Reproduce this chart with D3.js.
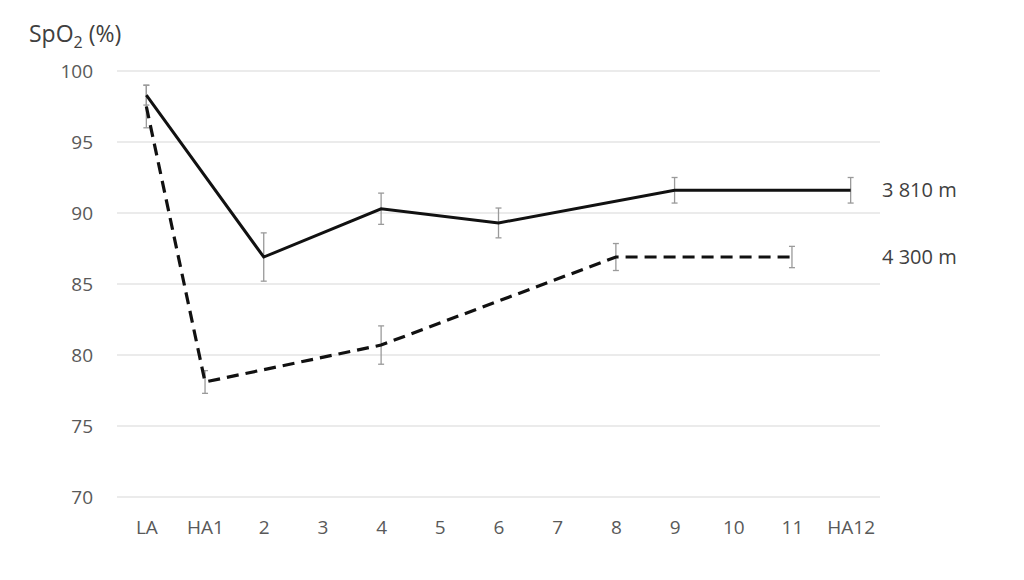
<!DOCTYPE html>
<html lang="en">
<head>
<meta charset="UTF-8">
<title>SpO2 by day</title>
<style>
  body { margin: 0; background: #fff; }
  svg text { font-family: "Open Sans", "Noto Sans", sans-serif; }
</style>
</head>
<body>
<div id="chart"></div>
<script src="https://d3js.org/d3.v7.min.js"></script>
<script>
// Categories along the x axis
var days = ["LA", "HA1", "2", "3", "4", "5", "6", "7", "8", "9", "10", "11", "HA12"];
var yTicks = [70, 75, 80, 85, 90, 95, 100];

// 3 810 m group (solid line); null = no measurement
var spo2Low = [98.3, null, 86.9, null, 90.3, null, 89.3, null, null, 91.6, null, null, 91.6];
var errLow  = [0.7, null, 1.7, null, 1.1, null, 1.05, null, null, 0.9, null, null, 0.9];

// 4 300 m group (dashed line)
var spo2High = [97.5, 78.1, null, null, 80.7, null, null, null, 86.9, null, null, 86.9, null];
var errHigh  = [1.5, 0.8, null, null, 1.35, null, null, null, 0.95, null, null, 0.75, null];

var seriesNames = ["3 810 m", "4 300 m"];

var width = 1024, height = 580;
var margin = {top: 71, right: 144, bottom: 83, left: 117};

var svg = d3.select("#chart").append("svg")
    .attr("width", width)
    .attr("height", height);

var x = d3.scalePoint().domain(days)
    .range([margin.left, width - margin.right])
    .padding(0.5);
var y = d3.scaleLinear().domain([70, 100])
    .range([height - margin.bottom, margin.top]);

// gridlines
svg.append("g")
    .selectAll("line")
    .data(yTicks)
    .join("line")
    .attr("x1", margin.left)
    .attr("x2", width - margin.right)
    .attr("y1", d => y(d))
    .attr("y2", d => y(d))
    .attr("stroke", "#e4e4e4")
    .attr("stroke-width", 1.5);

// y axis labels
var yAxis = svg.append("g")
    .attr("transform", "translate(" + (margin.left - 24) + ",0)")
    .call(d3.axisLeft(y).tickValues(yTicks).tickSize(0).tickPadding(0));
yAxis.select(".domain").remove();
yAxis.selectAll("text")
    .attr("fill", "#595959")
    .style("font-size", "19px");

// x axis labels
var xAxis = svg.append("g")
    .attr("transform", "translate(0," + (height - margin.bottom + 23) + ")")
    .call(d3.axisBottom(x).tickSize(0).tickPadding(0));
xAxis.select(".domain").remove();
xAxis.selectAll("text")
    .attr("fill", "#595959")
    .style("font-size", "19px");

// y axis title
var title = svg.append("text")
    .attr("x", 29)
    .attr("y", 42)
    .attr("fill", "#404040")
    .style("font-size", "23px");
title.append("tspan").text("SpO");
title.append("tspan").text("2").attr("dy", 6).style("font-size", "16px");
title.append("tspan").text(" (%)").attr("dy", -6);

function toPoints(vals, errs) {
    return days.map((d, i) => ({day: d, v: vals[i], e: errs[i]}))
        .filter(p => p.v !== null);
}

function drawErrors(pts) {
    var g = svg.append("g").attr("stroke", "#9a9a9a").attr("stroke-width", 1.3);
    pts.forEach(p => {
        var cx = x(p.day);
        g.append("line").attr("x1", cx).attr("x2", cx)
            .attr("y1", y(p.v - p.e)).attr("y2", y(p.v + p.e));
        g.append("line").attr("x1", cx - 3).attr("x2", cx + 3)
            .attr("y1", y(p.v - p.e)).attr("y2", y(p.v - p.e));
        g.append("line").attr("x1", cx - 3).attr("x2", cx + 3)
            .attr("y1", y(p.v + p.e)).attr("y2", y(p.v + p.e));
    });
}

var line = d3.line().x(p => x(p.day)).y(p => y(p.v));

var lowPts = toPoints(spo2Low, errLow);
var highPts = toPoints(spo2High, errHigh);

drawErrors(highPts);
drawErrors(lowPts);

svg.append("path")
    .datum(highPts)
    .attr("d", line)
    .attr("fill", "none")
    .attr("stroke", "#111")
    .attr("stroke-width", 3.2)
    .attr("stroke-dasharray", "12,7");

svg.append("path")
    .datum(lowPts)
    .attr("d", line)
    .attr("fill", "none")
    .attr("stroke", "#111")
    .attr("stroke-width", 3);

// series labels at the right
var lastLow = lowPts[lowPts.length - 1];
var lastHigh = highPts[highPts.length - 1];
svg.append("text")
    .attr("x", width - margin.right + 2)
    .attr("y", y(lastLow.v))
    .attr("dy", "0.35em")
    .attr("fill", "#404040")
    .style("font-size", "20px")
    .text(seriesNames[0]);
svg.append("text")
    .attr("x", width - margin.right + 2)
    .attr("y", y(lastHigh.v))
    .attr("dy", "0.35em")
    .attr("fill", "#404040")
    .style("font-size", "20px")
    .text(seriesNames[1]);
</script>
</body>
</html>
